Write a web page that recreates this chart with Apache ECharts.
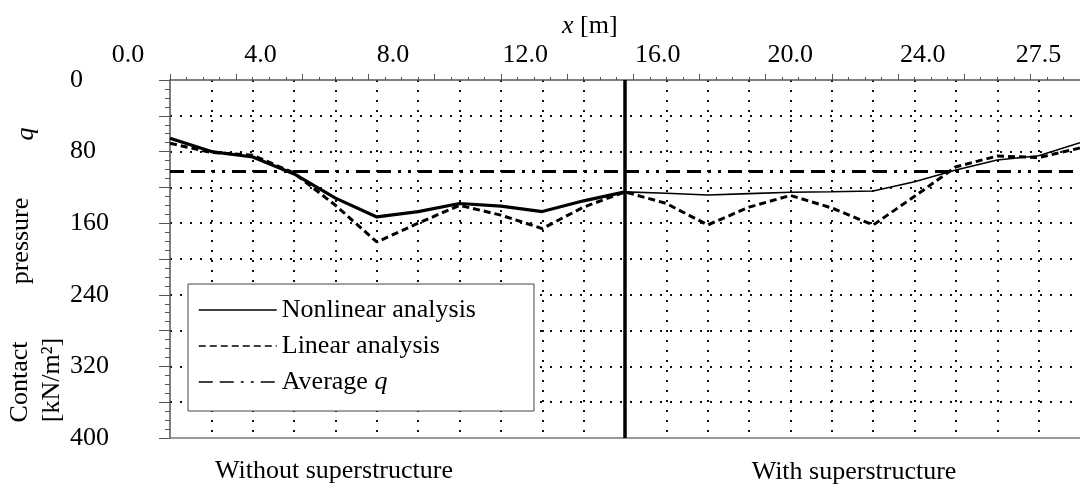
<!DOCTYPE html>
<html>
<head>
<meta charset="utf-8">
<script src="https://cdn.jsdelivr.net/npm/echarts@6/dist/echarts.min.js"></script>
<style>
html, body { margin: 0; padding: 0; background: #fff; }
#chart { width: 1080px; height: 491px; }
</style>
</head>
<body>
<div id="chart"></div>
<script>
// node positions along the foundation [m]
const nodeX = [1.25, 2.5, 3.75, 5, 6.25, 7.5, 8.75, 10, 11.25, 12.5, 13.75, 15,
    16.25, 17.5, 18.75, 20, 21.25, 22.5, 23.75, 25, 26.25, 27.5, 28.75]
// contact pressure q [kN/m2]
const nonlinearQ = [65, 80, 86, 105, 132, 153, 147, 138, 141, 147, 135, 125,
    126.6, 128.5, 127, 125.5, 124.8, 124, 113.6, 100.6, 89.4, 84.6, 70]
const linearQ = [70.7, 81, 84, 104, 140, 181, 160, 140, 151, 166, 142, 125,
    138, 162, 142, 129, 143, 162, 130, 97, 85, 86.6, 76]
const avgQ = 102
const splitX = 15 // superstructure starts here

const xTickValues = [0, 4, 8, 12, 16, 20, 24, 27.5]
const xTickLabels = ['0.0', '4.0', '8.0', '12.0', '16.0', '20.0', '24.0', '27.5']

const FONT = 'Liberation Serif'
const AXIS_COLOR = '#555'
const dotted = { color: '#111', width: 2, type: [2, 8] }
const dashDot = [14, 7, 14, 7, 3, 7, 3, 7]

const pairs = (xs, ys) => xs.map((x, i) => [x, ys[i]])
const thickPart = pairs(nodeX, nonlinearQ).filter(p => p[0] <= splitX)

const chart = echarts.init(document.getElementById('chart'))

const option = {
    animation: false,
    backgroundColor: '#fff',
    textStyle: { fontFamily: FONT, color: '#000' },
    title: {
        text: '{i|x} [m]',
        left: 557,
        top: 8,
        textStyle: {
            fontFamily: FONT, fontSize: 26, fontWeight: 'normal', color: '#000',
            rich: { i: { fontFamily: FONT, fontSize: 26, fontStyle: 'italic', color: '#000' } }
        }
    },
    grid: [
        { left: 170, top: 80, width: 916.7, height: 358 },
        { left: 128, top: 80, width: 958.7, height: 358 }
    ],
    xAxis: [
        {
            // ticks on top
            type: 'value', gridIndex: 0, position: 'top',
            min: 1.25, max: 28.75, interval: 2,
            axisLine: { show: true, lineStyle: { color: AXIS_COLOR, width: 1.5 } },
            axisTick: { show: true, length: 6, lineStyle: { color: AXIS_COLOR } },
            minorTick: { show: true, splitNumber: 4, length: 3, lineStyle: { color: AXIS_COLOR } },
            axisLabel: { show: false },
            splitLine: { show: false }
        },
        {
            // node grid lines + bottom frame
            type: 'value', gridIndex: 0, position: 'bottom',
            min: 1.25, max: 28.75, interval: 1.25,
            axisLine: { show: true, lineStyle: { color: '#777', width: 1.5 } },
            axisTick: { show: false },
            axisLabel: { show: false },
            splitLine: { show: true, showMinLine: false, showMaxLine: false, lineStyle: dotted }
        },
        {
            // distance labels
            type: 'value', gridIndex: 1, position: 'top',
            min: 0, max: 28.75,
            axisLine: { show: false },
            axisTick: { show: false },
            splitLine: { show: false },
            axisLabel: {
                show: true,
                customValues: xTickValues,
                margin: 12,
                fontFamily: FONT, fontSize: 26, color: '#000',
                formatter: v => xTickLabels[xTickValues.indexOf(v)]
            }
        }
    ],
    yAxis: [
        {
            type: 'value', gridIndex: 0, inverse: true,
            min: 0, max: 400, interval: 40,
            axisLine: { show: true, lineStyle: { color: AXIS_COLOR, width: 1.5 } },
            axisTick: { show: true, length: 11, lineStyle: { color: AXIS_COLOR } },
            minorTick: { show: true, splitNumber: 4, length: 5, lineStyle: { color: AXIS_COLOR } },
            axisLabel: {
                margin: 100, align: 'left',
                fontFamily: FONT, fontSize: 26, color: '#000',
                formatter: v => (v % 80 === 0 ? String(v) : '')
            },
            splitLine: { show: true, showMinLine: false, showMaxLine: false, lineStyle: dotted }
        },
        {
            type: 'value', gridIndex: 1, inverse: true, min: 0, max: 400, show: false
        }
    ],
    legend: {
        orient: 'vertical',
        left: 188, top: 284,
        padding: [13, 58, 16, 10],
        itemGap: 10,
        itemWidth: 78,
        itemHeight: 14,
        backgroundColor: '#fff',
        borderColor: '#444',
        borderWidth: 1,
        borderRadius: 0,
        lineStyle: { width: 1.5 },
        itemStyle: { opacity: 0 },
        data: ['Nonlinear analysis', 'Linear analysis', 'Average q'],
        formatter: name => (name === 'Average q' ? 'Average {i|q}' : name),
        textStyle: {
            fontFamily: FONT, fontSize: 26, color: '#000',
            rich: { i: { fontFamily: FONT, fontSize: 26, fontStyle: 'italic', color: '#000' } }
        }
    },
    series: [
        {
            name: 'Nonlinear analysis', type: 'line',
            xAxisIndex: 0, yAxisIndex: 0,
            data: pairs(nodeX, nonlinearQ),
            symbol: 'none',
            lineStyle: { color: '#000', width: 1.6 },
            itemStyle: { color: '#000' },
            z: 4
        },
        {
            name: 'nonlinear-left', type: 'line',
            xAxisIndex: 0, yAxisIndex: 0,
            data: thickPart,
            symbol: 'none',
            lineStyle: { color: '#000', width: 3.2 },
            z: 4,
            markLine: {
                silent: true, symbol: 'none',
                label: { show: false },
                lineStyle: { color: '#000', width: 3.5, type: 'solid' },
                data: [{ xAxis: splitX }]
            }
        },
        {
            name: 'Linear analysis', type: 'line',
            xAxisIndex: 0, yAxisIndex: 0,
            data: pairs(nodeX, linearQ),
            symbol: 'none',
            lineStyle: { color: '#000', width: 3, type: [7, 4] },
            itemStyle: { color: '#000' },
            z: 3
        },
        {
            name: 'Average q', type: 'line',
            xAxisIndex: 0, yAxisIndex: 0,
            data: [],
            symbol: 'none',
            lineStyle: { color: '#000', width: 3, type: dashDot },
            itemStyle: { color: '#000' },
            markLine: {
                silent: true, symbol: 'none',
                label: { show: false },
                lineStyle: { color: '#000', width: 3, type: dashDot },
                data: [{ yAxis: avgQ }]
            }
        }
    ],
    graphic: [
        { type: 'text', x: 26, y: 134, rotation: Math.PI / 2,
          style: { text: 'q', font: 'italic 26px "Liberation Serif"', fill: '#000', align: 'center', verticalAlign: 'middle' } },
        { type: 'text', x: 21, y: 241, rotation: Math.PI / 2,
          style: { text: 'pressure', font: '26px "Liberation Serif"', fill: '#000', align: 'center', verticalAlign: 'middle' } },
        { type: 'text', x: 20, y: 382, rotation: Math.PI / 2,
          style: { text: 'Contact', font: '26px "Liberation Serif"', fill: '#000', align: 'center', verticalAlign: 'middle' } },
        { type: 'text', x: 52, y: 380, rotation: Math.PI / 2,
          style: { text: '[kN/m²]', font: '26px "Liberation Serif"', fill: '#000', align: 'center', verticalAlign: 'middle' } },
        { type: 'text', x: 334, y: 471,
          style: { text: 'Without superstructure', font: '26px "Liberation Serif"', fill: '#000', align: 'center', verticalAlign: 'middle' } },
        { type: 'text', x: 854, y: 472,
          style: { text: 'With superstructure', font: '26px "Liberation Serif"', fill: '#000', align: 'center', verticalAlign: 'middle' } }
    ]
}

chart.setOption(option)
</script>
</body>
</html>
